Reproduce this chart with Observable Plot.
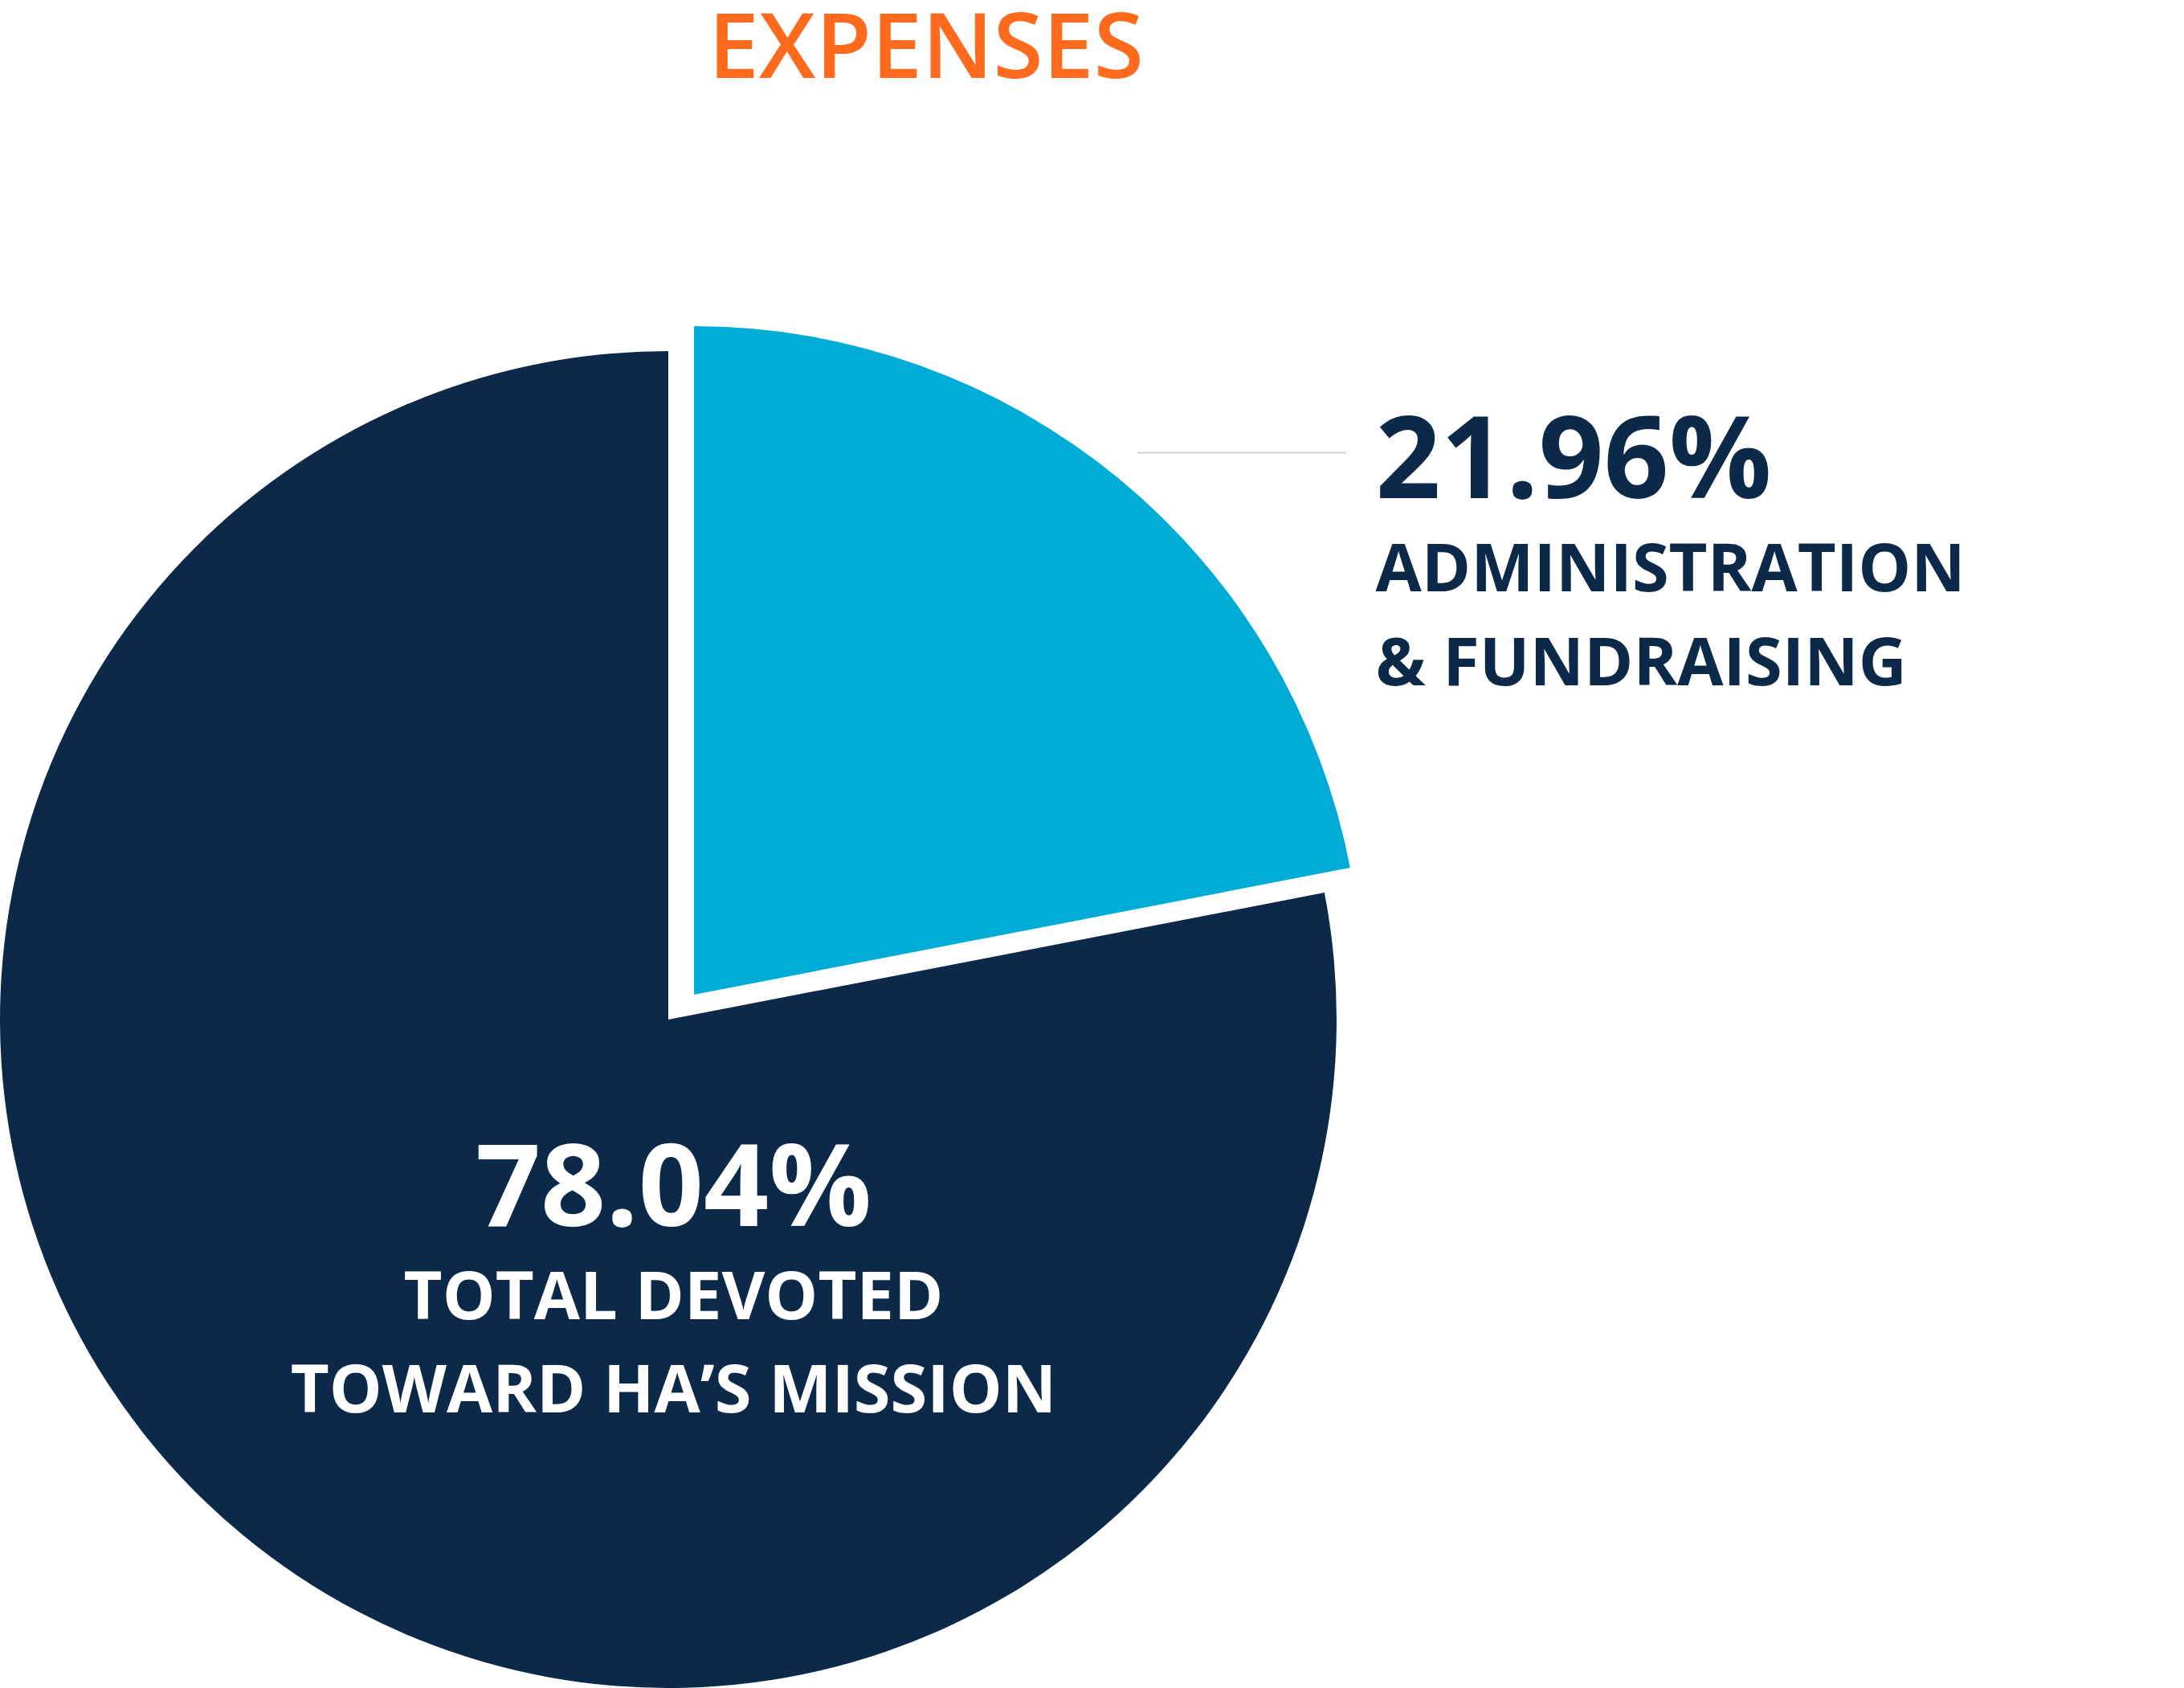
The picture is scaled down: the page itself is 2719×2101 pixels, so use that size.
<!DOCTYPE html>
<html>
<head>
<meta charset="utf-8">
<script src="https://cdn.jsdelivr.net/npm/d3@7"></script>
<script src="https://cdn.jsdelivr.net/npm/@observablehq/plot@0.6"></script>
<style>
  html, body { margin: 0; padding: 0; background: #ffffff; overflow: hidden; }
  #wrap { position: relative; width: 2719px; height: 2101px; }
  #title {
    position: absolute; left: 882px; top: 0; margin: 0;
    font-family: "Open Sans", sans-serif; font-weight: 600; font-size: 113px;
    line-height: 107px; color: #ff6a1c; white-space: nowrap; letter-spacing: 0;
  }
  #chart svg { display: block; }
</style>
</head>
<body>
<div id="wrap">
  <h1 id="title">EXPENSES</h1>
  <div id="chart"></div>
</div>
<script>
// ---- data ----
const categories = ["Administration & Fundraising", "Total devoted toward HA’s mission"];
const shares = [21.96, 78.04];
const valueLabels = ["21.96%", "78.04%"];
const descriptions = ["ADMINISTRATION\n& FUNDRAISING", "TOTAL DEVOTED\nTOWARD HA’S MISSION"];

// ---- styles / layout (in pie-radius units, origin at the pie centre, y up) ----
const sliceColors = ["#00acd6", "#0c294a"];
const labelColors = ["#0c294a", "#ffffff"];
const explode = [[0.0385, 0.0373], [0, 0]];
const valuePos = [[1.0577, 0.781, "start"], [0.0072, -0.3077, "middle"]];
const descPos = [[1.0577, 0.5012, "start"], [0.0072, -0.5877, "middle"]];
const leader = {x1: 0.7019, x2: 1.0144, y: 0.8486};

const W = 2719, H = 2101, R = 832, CX = 832, CY = 1269;

const slices = categories.map((category, i) => ({
  category, share: shares[i], value: valueLabels[i], desc: descriptions[i],
  dx: explode[i][0], dy: explode[i][1]
}));

const color = Plot.scale({color: {type: "ordinal", domain: categories, range: sliceColors}});

function pie(data) {
  return (index, scales) => {
    const {x, y} = scales;
    const r = x(1) - x(0);
    const arcs = d3.pie().sort(null).value(d => d.share)(data);
    const arc = d3.arc().innerRadius(0).outerRadius(r);
    const g = d3.create("svg:g");
    g.selectAll("path").data(arcs).join("path")
      .attr("d", arc)
      .attr("fill", d => color.apply(d.data.category))
      .attr("transform", d => `translate(${x(d.data.dx)},${y(d.data.dy)})`);
    return g.node();
  };
}

const marks = [pie(slices)];
marks.push(Plot.ruleY([leader.y], {x1: leader.x1, x2: leader.x2, stroke: "#d3d5d8", strokeWidth: 2}));
slices.forEach((s, i) => {
  marks.push(Plot.text([s], {
    x: () => valuePos[i][0], y: () => valuePos[i][1], text: "value",
    textAnchor: valuePos[i][2], lineAnchor: "bottom",
    fontFamily: "Open Sans", fontWeight: 700, fontSize: 142, fill: labelColors[i]
  }));
  marks.push(Plot.text([s], {
    x: () => descPos[i][0], y: () => descPos[i][1], text: "desc",
    textAnchor: descPos[i][2], lineAnchor: "bottom", lineHeight: 1.405,
    fontFamily: "Open Sans", fontWeight: 700, fontSize: 83, fill: labelColors[i]
  }));
});

const chart = Plot.plot({
  width: W, height: H, margin: 0,
  style: {background: "#ffffff"},
  x: {type: "linear", domain: [-1, 1], range: [CX - R, CX + R], axis: null},
  y: {type: "linear", domain: [-1, 1], range: [CY + R, CY - R], axis: null},
  marks
});
document.getElementById("chart").appendChild(chart);
</script>
</body>
</html>
